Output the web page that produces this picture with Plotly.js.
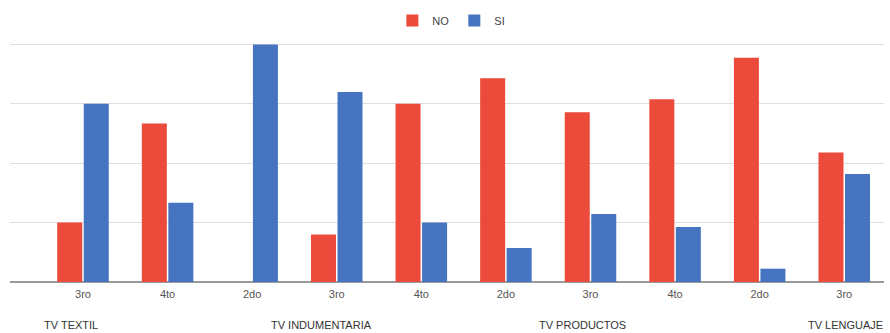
<!DOCTYPE html>
<html>
<head>
<meta charset="utf-8">
<script src="https://cdn.plot.ly/plotly-3.0.1.min.js"></script>
<style>html,body{margin:0;padding:0;background:#fff;}</style>
</head>
<body>
<div id="chart" style="width:890px;height:333px;"></div>
<script>
// Data
const levels = ["3ro", "4to", "2do", "3ro", "4to", "2do", "3ro", "4to", "2do", "3ro"];
const groups = ["TV TEXTIL", "TV INDUMENTARIA", "TV PRODUCTOS", "TV LENGUAJE"];
const noValues = [25, 66.7, 0, 20, 75, 85.7, 71.4, 76.9, 94.4, 54.5];
const siValues = [75, 33.3, 100, 80, 25, 14.3, 28.6, 23.1, 5.6, 45.5];

// Layout helpers (positions of group labels along the category axis)
const groupLabelPos = [-0.14, 2.82, 5.91, 9.02];

const idx = levels.map((_, i) => i);
const font = "Liberation Sans, Arial, sans-serif";

const traces = [
  {type: "bar", name: "NO", x: idx, y: noValues, marker: {color: "#ec4a3b"}, hoverinfo: "none"},
  {type: "bar", name: "SI", x: idx, y: siValues, marker: {color: "#4674c1"}, hoverinfo: "none"}
];

const annotations = groups.map((g, i) => ({
  text: g, x: groupLabelPos[i], xref: "x", y: -0.178, yref: "paper",
  xanchor: "center", yanchor: "middle", showarrow: false,
  font: {family: font, size: 11, color: "#333"}
}));

const layout = {
  width: 890, height: 333,
  margin: {l: 10, r: 6, t: 42, b: 51},
  paper_bgcolor: "#fff", plot_bgcolor: "#fff",
  barmode: "group", bargap: 0.373, bargroupgap: 0.057,
  showlegend: true,
  legend: {orientation: "h", x: 0.505, xanchor: "center", y: 1.09, yanchor: "middle",
           font: {family: font, size: 11, color: "#444"}, itemwidth: 30},
  xaxis: {range: [-0.863, 9.47], tickvals: idx, ticktext: levels, showgrid: false,
          zeroline: false, showline: false, ticks: "", ticklabelstandoff: 4,
          tickfont: {family: font, size: 11, color: "#555"}},
  yaxis: {range: [0, 101], tickvals: [0, 25, 50, 75, 100], showticklabels: false,
          showgrid: true, gridcolor: "#dedede", gridwidth: 1.2,
          zeroline: true, zerolinecolor: "#9a9a9a", zerolinewidth: 1.2, showline: false},
  annotations: annotations,
  font: {family: font}
};

Plotly.newPlot("chart", traces, layout, {staticPlot: true, displayModeBar: false});
</script>
</body>
</html>
